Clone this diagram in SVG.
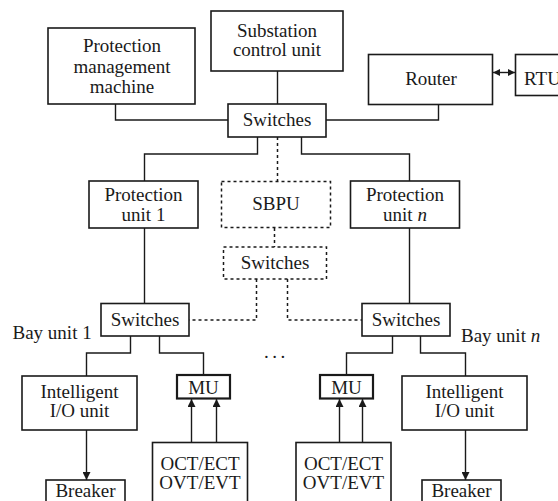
<svg xmlns="http://www.w3.org/2000/svg" width="558" height="501" viewBox="0 0 558 501">
<style>
.b{fill:#fff;stroke:#1a1a1a;stroke-width:1.6}
.d{fill:#fff;stroke:#1a1a1a;stroke-width:1.5;stroke-dasharray:3 3}
.mu{fill:#fff;stroke:#1a1a1a;stroke-width:2.2}
text{font-family:'Liberation Serif','Times New Roman','DejaVu Serif',serif;font-size:19px;fill:#1a1a1a}
.t{text-anchor:middle}
.c{fill:none;stroke:#1a1a1a;stroke-width:1.4}
.cd{fill:none;stroke:#1a1a1a;stroke-width:1.5;stroke-dasharray:3 3}
</style>
<defs>
<marker id="ah" viewBox="0 0 10 10" refX="10" refY="5" markerWidth="7" markerHeight="7" markerUnits="userSpaceOnUse" orient="auto-start-reverse">
<path d="M0,0 L10,5 L0,10 z" fill="#1a1a1a"/>
</marker>
<marker id="ah2" viewBox="0 0 10 10" refX="10" refY="5" markerWidth="10" markerHeight="8" markerUnits="userSpaceOnUse" orient="auto-start-reverse">
<path d="M0,0 L10,5 L0,10 z" fill="#1a1a1a"/>
</marker>
</defs>
<rect width="558" height="501" fill="#fff"/>
<g id="connectors">
<path class="c" d="M115.5,104 V120 H228"/>
<path class="c" d="M277.5,71 V104"/>
<path class="c" d="M438.5,104 V120 H326"/>
<path class="c" d="M257.5,137 V154 H144.5 V181"/>
<path class="c" d="M301.5,137 V154 H409.5 V181"/>
<path class="cd" d="M277.5,137 V181"/>
<path class="cd" d="M274.5,228 V247"/>
<path class="cd" d="M256.5,279 V320 H189"/>
<path class="cd" d="M287.5,279 V320 H362"/>
<path class="c" d="M144.5,228 V303"/>
<path class="c" d="M409.5,228 V303"/>
<path class="c" d="M130.5,336 V353 H86.5 V376"/>
<path class="c" d="M159.5,336 V353 H203.5 V375"/>
<path class="c" d="M392.5,336 V353 H346.5 V375"/>
<path class="c" d="M420.5,336 V353 H465.5 V376"/>
<path class="c" d="M86.5,430 V480" marker-end="url(#ah2)"/>
<path class="c" d="M465.5,430 V480" marker-end="url(#ah2)"/>
<path class="c" d="M191.5,442 V399" marker-end="url(#ah2)"/>
<path class="c" d="M216.5,442 V399" marker-end="url(#ah2)"/>
<path class="c" d="M339.5,442 V399" marker-end="url(#ah2)"/>
<path class="c" d="M362.5,442 V399" marker-end="url(#ah2)"/>
<path class="c" d="M493,72.5 H515" marker-start="url(#ah)" marker-end="url(#ah)"/>
</g>
<g id="pmm"><rect class="b" x="48" y="28" width="147" height="76"/>
<text class="t" x="122" y="52">Protection</text><text class="t" x="122" y="72.5">management</text><text class="t" x="122" y="92.5">machine</text></g>
<g id="scu"><rect class="b" x="211" y="11" width="132" height="60"/>
<text class="t" x="277" y="37">Substation</text><text class="t" x="277" y="56">control unit</text></g>
<g id="router"><rect class="b" x="368.5" y="54.5" width="124" height="50"/>
<text class="t" x="431" y="85">Router</text></g>
<g id="rtu"><rect class="b" x="515.5" y="54.5" width="60" height="41"/>
<text x="524" y="85">RTU</text></g>
<g id="sw-top"><rect class="b" x="228" y="104" width="98" height="33"/>
<text class="t" x="277" y="126">Switches</text></g>
<g id="pu1"><rect class="b" x="89" y="181" width="109" height="47"/>
<text class="t" x="143.5" y="200.5">Protection</text><text class="t" x="143.5" y="220.5">unit 1</text></g>
<g id="sbpu"><rect class="d" x="221.5" y="181.5" width="109" height="46"/>
<text class="t" x="276" y="210">SBPU</text></g>
<g id="sw-mid"><rect class="d" x="223.5" y="247" width="103" height="32"/>
<text class="t" x="275" y="268.5">Switches</text></g>
<g id="pun"><rect class="b" x="350.5" y="181" width="109" height="47"/>
<text class="t" x="405" y="200.5">Protection</text><text class="t" x="405" y="220.5">unit <tspan font-style="italic">n</tspan></text></g>
<g id="sw-bay1"><rect class="b" x="101" y="303.5" width="88" height="32.5"/>
<text class="t" x="145" y="325.5">Switches</text></g>
<g id="sw-bayn"><rect class="b" x="362" y="303.5" width="88" height="32.5"/>
<text class="t" x="406" y="325.5">Switches</text></g>
<text x="12.5" y="339">Bay unit 1</text>
<text x="461" y="342">Bay unit <tspan font-style="italic">n</tspan></text>
<text x="264" y="358" letter-spacing="3.5">...</text>
<g id="io1"><rect class="b" x="22" y="376" width="115" height="54"/>
<text class="t" x="79.5" y="398">Intelligent</text><text class="t" x="79.5" y="417">I/O unit</text></g>
<g id="mu1"><rect class="mu" x="177" y="375" width="53" height="23.5"/>
<text class="t" x="203.5" y="393.5">MU</text></g>
<g id="ct1"><rect class="b" x="152.5" y="442.5" width="95" height="70"/>
<text class="t" x="200" y="470">OCT/ECT</text><text class="t" x="200" y="489">OVT/EVT</text></g>
<g id="br1"><rect class="b" x="46" y="480" width="79" height="30"/>
<text class="t" x="85.5" y="497">Breaker</text></g>
<g id="mun"><rect class="mu" x="320" y="375" width="53" height="23.5"/>
<text class="t" x="346.5" y="393.5">MU</text></g>
<g id="ctn"><rect class="b" x="296" y="442.5" width="95" height="70"/>
<text class="t" x="343.5" y="470">OCT/ECT</text><text class="t" x="343.5" y="489">OVT/EVT</text></g>
<g id="ion"><rect class="b" x="402" y="376" width="125" height="54"/>
<text class="t" x="464.5" y="398">Intelligent</text><text class="t" x="464.5" y="417">I/O unit</text></g>
<g id="brn"><rect class="b" x="422" y="480" width="79" height="30"/>
<text class="t" x="461.5" y="497">Breaker</text></g>
</svg>
